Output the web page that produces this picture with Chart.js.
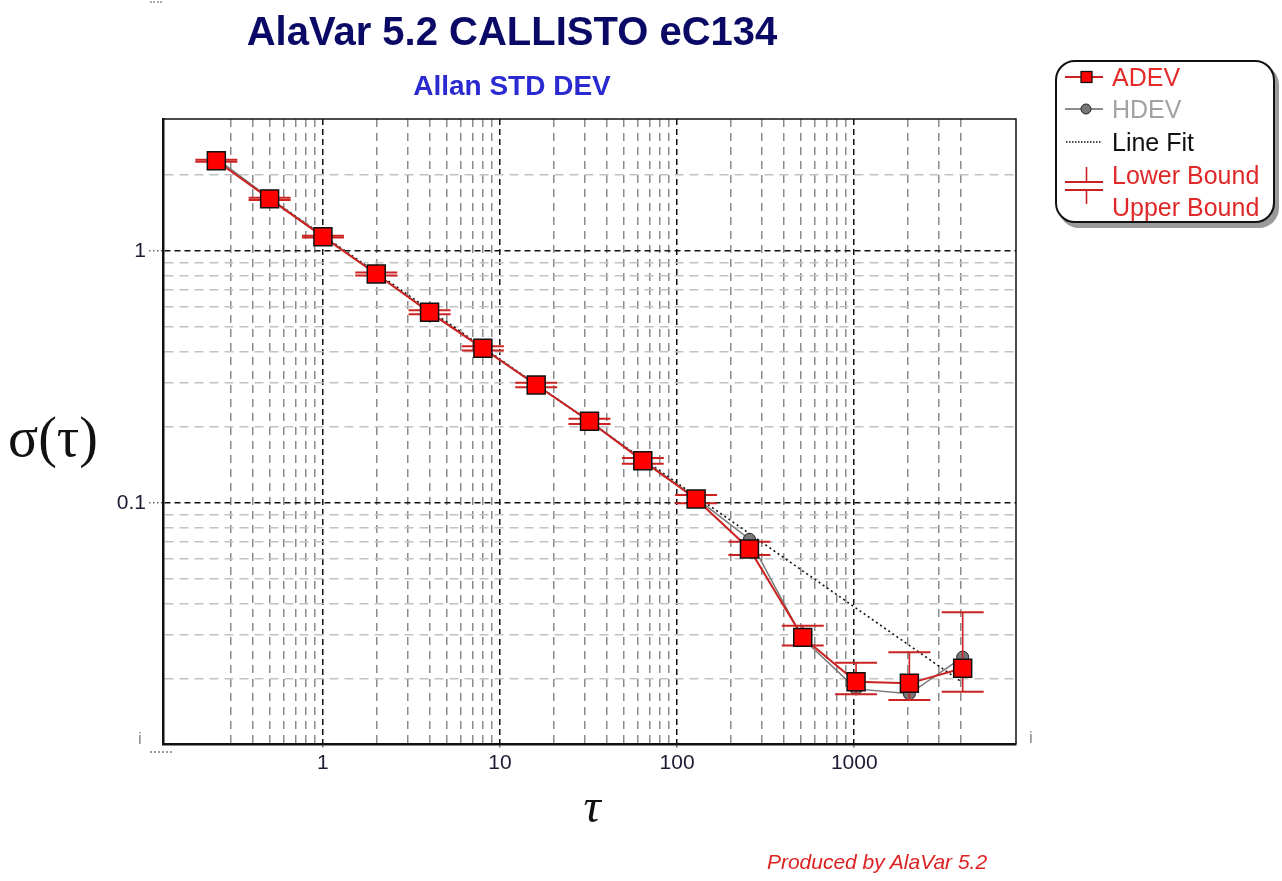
<!DOCTYPE html>
<html><head><meta charset="utf-8">
<script src="https://cdn.jsdelivr.net/npm/chart.js@4.4.1/dist/chart.umd.min.js"></script>
<style>
html,body{margin:0;padding:0;background:#fff;}
#wrap{position:relative;width:1282px;height:881px;overflow:hidden;font-family:"Liberation Sans",Arial,sans-serif;}
#c{position:absolute;left:0;top:0;}
.t{position:absolute;white-space:nowrap;}
.lg{position:absolute;left:1112px;font-size:25px;line-height:28px;white-space:nowrap;}
</style></head><body>
<div id="wrap">
<canvas id="c" width="1282" height="881"></canvas>
<div class="t" style="left:0;width:1024px;top:7px;text-align:center;font-weight:bold;font-size:40px;line-height:48px;color:#0a0a66;">AlaVar 5.2 CALLISTO eC134</div>
<div class="t" style="left:0;width:1024px;top:69px;text-align:center;font-weight:bold;font-size:28px;line-height:34px;color:#2a2ad0;">Allan STD DEV</div>
<div class="t" style="left:8px;top:404px;font-family:'Liberation Serif','Times New Roman',serif;font-size:56px;line-height:66px;color:#111;">σ(τ)</div>
<div class="t" style="left:542px;width:100px;top:778px;text-align:center;font-family:'Liberation Serif','Times New Roman',serif;font-style:italic;font-size:48px;line-height:56px;color:#111;">τ</div>
<div class="t" style="left:677px;width:400px;top:849px;text-align:center;font-style:italic;font-size:21px;line-height:26px;color:#dd2222;">Produced by AlaVar 5.2</div>
<div class="t" style="left:138px;top:729px;font-size:17px;line-height:20px;color:#8a8a8a;">i</div>
<div class="t" style="left:150px;top:751px;width:22px;border-top:2px dotted #9a9a9a;"></div>
<div class="t" style="left:1029px;top:728px;font-size:17px;line-height:20px;color:#8a8a8a;">i</div>
<div class="t" style="left:150px;top:1px;width:12px;border-top:2px dotted #aaa;"></div>
<div style="position:absolute;left:1055px;top:60px;width:216px;height:159px;border:2px solid #111;border-radius:20px;box-shadow:4px 5px 0 #9a9a9a;background:#fff;"></div>
<svg style="position:absolute;left:0;top:0;" width="1282" height="881">
  <line x1="1065" y1="77" x2="1103" y2="77" stroke="#cc2222" stroke-width="2"/>
  <rect x="1081" y="71.5" width="11" height="11" fill="#ff0000" stroke="#111" stroke-width="1.3"/>
  <line x1="1065" y1="109" x2="1103" y2="109" stroke="#666" stroke-width="1.6"/>
  <circle cx="1086" cy="109" r="5" fill="#777" stroke="#222" stroke-width="1"/>
  <line x1="1066" y1="142" x2="1101" y2="142" stroke="#111" stroke-width="1.5" stroke-dasharray="1.5,1.5"/>
  <line x1="1065" y1="182" x2="1103" y2="182" stroke="#cc2222" stroke-width="2"/>
  <line x1="1086.5" y1="167" x2="1086.5" y2="182" stroke="#cc2222" stroke-width="1.6"/>
  <line x1="1065" y1="190" x2="1103" y2="190" stroke="#cc2222" stroke-width="2"/>
  <line x1="1086.5" y1="190" x2="1086.5" y2="204" stroke="#cc2222" stroke-width="1.6"/>
</svg>
<div class="lg" style="top:63px;color:#e42a2a;">ADEV</div>
<div class="lg" style="top:95px;color:#a2a2a2;">HDEV</div>
<div class="lg" style="top:128px;color:#111;">Line Fit</div>
<div class="lg" style="top:161px;color:#e02828;">Lower Bound</div>
<div class="lg" style="top:193px;color:#e02828;">Upper Bound</div>
</div>
<script>
// ---- data ----
const tau   = [0.25, 0.5, 1, 2, 4, 8, 16, 32, 64, 128, 256, 512, 1024, 2048, 4096];
const adev  = [2.28, 1.61, 1.14, 0.81, 0.571, 0.411, 0.294, 0.211, 0.147, 0.1037, 0.0657, 0.0293, 0.01954, 0.01925, 0.02208];
const hdev  = [2.33, 1.62, 1.145, 0.812, 0.573, 0.412, 0.295, 0.212, 0.148, 0.1045, 0.0718, 0.0290, 0.0183, 0.0175, 0.02446];
const upper = [2.30, 1.625, 1.15, 0.822, 0.582, 0.419, 0.300, 0.216, 0.151, 0.1076, 0.0702, 0.0326, 0.02324, 0.02556, 0.03683];
const lower = [2.26, 1.595, 1.13, 0.800, 0.561, 0.403, 0.288, 0.206, 0.143, 0.0997, 0.0622, 0.0272, 0.01741, 0.01653, 0.01783];
const fitTau   = [0.25, 4096];
const fitSigma = [2.28, 0.01936];
const xGrid  = [0.3,0.4,0.5,0.6,0.7,0.8,0.9,1,2,3,4,5,6,7,8,9,10,20,30,40,50,60,70,80,90,100,200,300,400,500,600,700,800,900,1000,2000,3000,4000];
const xMajor = [1, 10, 100, 1000];
const xMajorLabels = ['1', '10', '100', '1000'];
const yGrid  = [0.02,0.03,0.04,0.05,0.06,0.07,0.08,0.09,0.1,0.2,0.3,0.4,0.5,0.6,0.7,0.8,0.9,1,2];
const yMajor = [0.1, 1];
const yMajorLabels = ['0.1', '1'];

const pts = (xs, ys) => xs.map((x, i) => ({x: x, y: ys[i]}));
const stems = [];
tau.forEach((t, i) => { stems.push({x: t, y: lower[i]}, {x: t, y: upper[i]}, {x: t, y: null}); });

const isMaj = (arr, ctx) => ctx.tick && arr.includes(ctx.tick.value);

const framePlugin = {
  id: 'frame',
  afterDatasetsDraw(chart) {
    const {ctx, chartArea: a} = chart;
    ctx.save();
    ctx.strokeStyle = '#111';
    ctx.lineWidth = 1.5;
    ctx.beginPath();
    ctx.moveTo(a.left, a.top); ctx.lineTo(a.right, a.top); ctx.lineTo(a.right, a.bottom);
    ctx.stroke();
    ctx.restore();
  }
};

const RED = '#cc2222';
new Chart(document.getElementById('c'), {
  type: 'scatter',
  data: {
    datasets: [
      { label: 'ADEV', data: pts(tau, adev), showLine: true, borderColor: RED, borderWidth: 2,
        pointStyle: 'rect', pointRadius: 12.7, pointBackgroundColor: '#ff0000', pointBorderColor: '#111', pointBorderWidth: 1.5 },
      { label: 'Upper Bound', data: pts(tau, upper), showLine: false, pointStyle: 'line', pointRadius: 21,
        pointBorderColor: RED, pointBorderWidth: 2 },
      { label: 'Lower Bound', data: pts(tau, lower), showLine: false, pointStyle: 'line', pointRadius: 21,
        pointBorderColor: RED, pointBorderWidth: 2 },
      { label: 'stems', data: stems, showLine: true, spanGaps: false, borderColor: RED, borderWidth: 1.6, pointRadius: 0 },
      { label: 'HDEV', data: pts(tau, hdev), showLine: true, borderColor: '#777', borderWidth: 1.5,
        pointStyle: 'circle', pointRadius: 6, pointBackgroundColor: '#777', pointBorderColor: '#222', pointBorderWidth: 1 },
      { label: 'Line Fit', data: pts(fitTau, fitSigma), showLine: true, borderColor: '#111', borderWidth: 1.6,
        borderDash: [2, 3], pointRadius: 0 }
    ]
  },
  options: {
    responsive: false, animation: false, events: [],
    layout: { padding: { left: 0, top: 119, right: 266, bottom: 97 } },
    plugins: { legend: { display: false }, tooltip: { enabled: false }, title: { display: false } },
    scales: {
      x: {
        type: 'logarithmic', min: 0.125, max: 8192, bounds: 'data',
        afterBuildTicks: s => { s.ticks = xGrid.map(v => ({ value: v, major: false })); },
        afterFit: s => { s.height = 40; },
        ticks: { autoSkip: false, maxRotation: 0, minRotation: 0, padding: 2,
          font: { family: "'Liberation Sans', Arial", size: 21 }, color: '#1c1c34',
          callback: v => { const k = xMajor.indexOf(v); return k >= 0 ? xMajorLabels[k] : ''; } },
        grid: { color: c => isMaj(xMajor, c) ? '#111' : '#8a8a8a', lineWidth: 1.5,
          tickLength: 5, tickWidth: 1.5, tickColor: c => isMaj(xMajor, c) ? '#666' : 'rgba(0,0,0,0)', tickBorderDash: [2, 2] },
        border: { display: true, color: '#111', width: 2.5, dash: c => c.tick ? (isMaj(xMajor, c) ? [6, 4] : [8, 6]) : [] }
      },
      y: {
        type: 'logarithmic', min: 0.01106, max: 3.34, bounds: 'data', position: 'left',
        afterBuildTicks: s => { s.ticks = yGrid.map(v => ({ value: v, major: false })); },
        afterFit: s => { s.width = 163; },
        ticks: { autoSkip: false, padding: 3,
          font: { family: "'Liberation Sans', Arial", size: 21 }, color: '#1c1c34',
          callback: v => { const k = yMajor.indexOf(v); return k >= 0 ? yMajorLabels[k] : ''; } },
        grid: { color: c => isMaj(yMajor, c) ? '#111' : '#c2c2c2', lineWidth: 1.5,
          tickLength: 14, tickWidth: 1.5, tickColor: c => isMaj(yMajor, c) ? '#666' : 'rgba(0,0,0,0)', tickBorderDash: [1.5, 2.5] },
        border: { display: true, color: '#111', width: 2.5, dash: c => c.tick ? (isMaj(yMajor, c) ? [6, 4] : [9, 6]) : [] }
      }
    }
  },
  plugins: [framePlugin]
});
</script>
</body></html>
